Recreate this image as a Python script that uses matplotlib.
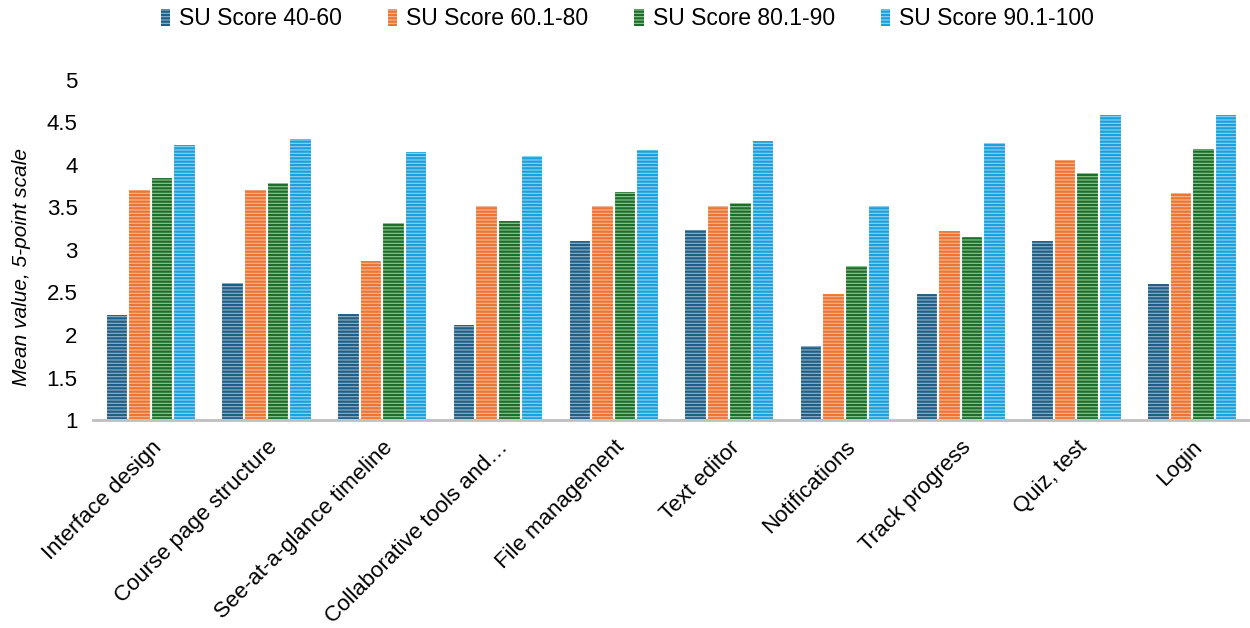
import numpy as np
import matplotlib.pyplot as plt
from matplotlib.patches import Patch

plt.rcParams['font.family'] = ['Liberation Sans', 'DejaVu Sans']
plt.rcParams['hatch.linewidth'] = 1.6

categories = ['Interface design', 'Course page structure', 'See-at-a-glance timeline',
              'Collaborative tools and…', 'File management', 'Text editor',
              'Notifications', 'Track progress', 'Quiz, test', 'Login']
series = ['SU Score 40-60', 'SU Score 60.1-80', 'SU Score 80.1-90', 'SU Score 90.1-100']

su_40_60 = [2.25, 2.62, 2.26, 2.13, 3.12, 3.25, 1.88, 2.49, 3.12, 2.61]
su_60_80 = [3.72, 3.72, 2.88, 3.53, 3.53, 3.53, 2.49, 3.23, 4.07, 3.68]
su_80_90 = [3.86, 3.80, 3.33, 3.35, 3.69, 3.56, 2.82, 3.16, 3.92, 4.20]
su_90_100 = [4.25, 4.31, 4.16, 4.12, 4.19, 4.29, 3.53, 4.27, 4.60, 4.60]

# stripe colour / lighter fill for each series
stripe = ['#1F5E85', '#EC7533', '#1E6B2C', '#1AA0DC']
fill = ['#8FB4CC', '#F7B895', '#8BCB8E', '#92D3F2']

fig = plt.figure(figsize=(12.5, 6.28), dpi=100)
ax = fig.add_axes([0.0744, 0.331, 0.9256, 0.542])

x = np.arange(len(categories))
step = 0.195
offsets = (np.arange(4) - 1.5) * step
for vals, off, sc, fc in zip([su_40_60, su_60_80, su_80_90, su_90_100], offsets, stripe, fill):
    h = np.array(vals) - 1
    ax.bar(x + off, h, bottom=1, width=step, facecolor=fc, edgecolor=sc,
           linewidth=0, hatch='-----', zorder=2)
    ax.bar(x + off, h, bottom=1, width=step, facecolor='none', edgecolor='white',
           linewidth=1.5, zorder=3)

ax.set_xlim(-0.5, len(categories) - 0.5)
ax.set_ylim(1, 5)
ax.set_yticks(np.arange(1, 5.01, 0.5))
ax.set_yticklabels(['1', '1.5', '2', '2.5', '3', '3.5', '4', '4.5', '5'])
ax.set_xticks(x)
ax.set_xticklabels(categories, rotation=45, ha='right', rotation_mode='anchor')
ax.tick_params(axis='both', length=0, labelsize=16, colors='#000000')
ax.tick_params(axis='y', pad=11)
ax.tick_params(axis='x', pad=12)

for s in ['top', 'right', 'left']:
    ax.spines[s].set_visible(False)
ax.spines['bottom'].set_color('#BFBFBF')
ax.spines['bottom'].set_linewidth(2)
ax.spines['bottom'].set_zorder(4)

ax.set_ylabel('Mean value, 5-point scale', fontsize=15, style='italic')
ax.yaxis.set_label_coords(-0.054, 0.45)

handles = [Patch(facecolor=fc, edgecolor=sc, hatch='-----', linewidth=0)
           for sc, fc in zip(stripe, fill)]
fig.legend(handles, series, loc='center', bbox_to_anchor=(0.502, 0.97), ncol=4,
           frameon=False, fontsize=16.5, handlelength=0.4, handleheight=0.75,
           handletextpad=0.4, columnspacing=2.0)

fig.savefig('out.png', dpi=100)
